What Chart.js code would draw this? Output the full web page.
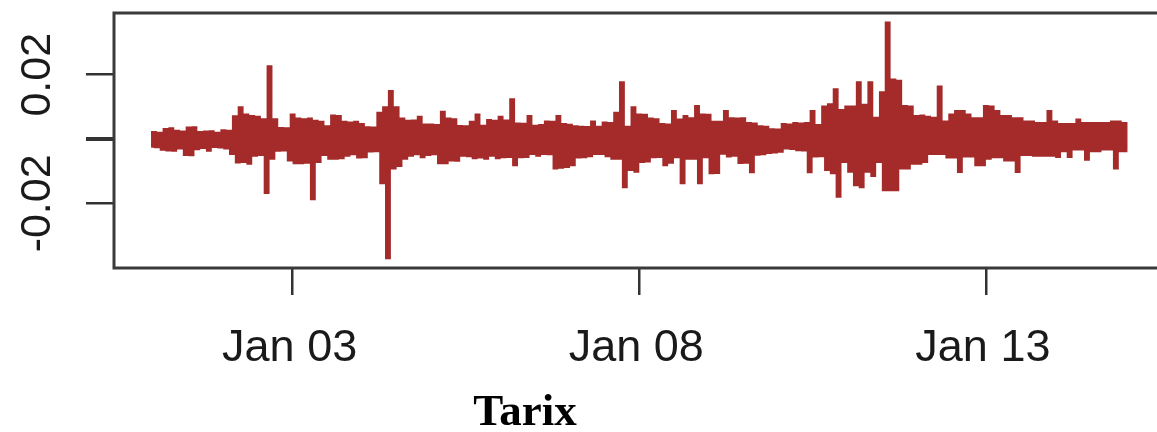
<!DOCTYPE html>
<html>
<head>
<meta charset="utf-8">
<script src="https://cdn.jsdelivr.net/npm/chart.js@4.4.1/dist/chart.umd.min.js"></script>
<style>
  html, body { margin: 0; padding: 0; background: #fff; overflow: hidden; }
  #wrap { width: 1168px; height: 432px; }
</style>
</head>
<body>
<div id="wrap"><canvas id="retChart" width="1168" height="432"></canvas></div>
<script>
// hourly returns, starting one hour before Jan 01 00:00
const startHour = -1;
const returns = [
  -0.0022, 0.0020, -0.0024, 0.0018, -0.0032, 0.0030, -0.0034, 0.0032, -0.0035, 0.0024,
  -0.0028, 0.0022, -0.0048, 0.0034, -0.0049, 0.0035, -0.0030, 0.0020, -0.0026, 0.0022,
  -0.0035, 0.0023, -0.0023, 0.0018, -0.0025, 0.0026, -0.0028, 0.0024, -0.0045, 0.0069,
  -0.0071, 0.0097, -0.0070, 0.0075, -0.0075, 0.0070, -0.0050, 0.0068, -0.0048, 0.0060,
  -0.0166, 0.0225, -0.0060, 0.0060, -0.0035, 0.0033, -0.0034, 0.0032, -0.0065, 0.0075,
  -0.0074, 0.0062, -0.0074, 0.0060, -0.0072, 0.0062, -0.0186, 0.0055, -0.0070, 0.0052,
  -0.0048, 0.0038, -0.0060, 0.0072, -0.0060, 0.0070, -0.0058, 0.0052, -0.0050, 0.0050,
  -0.0046, 0.0052, -0.0056, 0.0045, -0.0055, 0.0035, -0.0037, 0.0034, -0.0036, 0.0080,
  -0.0136, 0.0097, -0.0369, 0.0148, -0.0090, 0.0097, -0.0082, 0.0062, -0.0060, 0.0055,
  -0.0050, 0.0056, -0.0046, 0.0068, -0.0055, 0.0044, -0.0048, 0.0044, -0.0046, 0.0042,
  -0.0074, 0.0083, -0.0074, 0.0062, -0.0065, 0.0060, -0.0066, 0.0039, -0.0050, 0.0038,
  -0.0052, 0.0052, -0.0058, 0.0075, -0.0056, 0.0040, -0.0060, 0.0058, -0.0050, 0.0055,
  -0.0058, 0.0068, -0.0055, 0.0056, -0.0054, 0.0122, -0.0080, 0.0047, -0.0055, 0.0046,
  -0.0054, 0.0070, -0.0045, 0.0040, -0.0050, 0.0042, -0.0045, 0.0053, -0.0046, 0.0052,
  -0.0090, 0.0070, -0.0088, 0.0045, -0.0085, 0.0043, -0.0080, 0.0038, -0.0056, 0.0037,
  -0.0055, 0.0036, -0.0052, 0.0053, -0.0045, 0.0037, -0.0045, 0.0050, -0.0052, 0.0048,
  -0.0060, 0.0080, -0.0060, 0.0175, -0.0148, 0.0037, -0.0095, 0.0097, -0.0100, 0.0075,
  -0.0070, 0.0074, -0.0068, 0.0062, -0.0055, 0.0060, -0.0054, 0.0045, -0.0080, 0.0044,
  -0.0072, 0.0086, -0.0055, 0.0059, -0.0136, 0.0070, -0.0060, 0.0063, -0.0060, 0.0101,
  -0.0136, 0.0075, -0.0055, 0.0074, -0.0105, 0.0052, -0.0104, 0.0052, -0.0044, 0.0086,
  -0.0053, 0.0063, -0.0050, 0.0062, -0.0073, 0.0063, -0.0072, 0.0048, -0.0102, 0.0047,
  -0.0047, 0.0038, -0.0046, 0.0037, -0.0042, 0.0029, -0.0040, 0.0028, -0.0038, 0.0045,
  -0.0028, 0.0044, -0.0029, 0.0048, -0.0033, 0.0047, -0.0034, 0.0048, -0.0102, 0.0086,
  -0.0053, 0.0042, -0.0052, 0.0100, -0.0095, 0.0107, -0.0105, 0.0153, -0.0178, 0.0089,
  -0.0070, 0.0100, -0.0100, 0.0100, -0.0142, 0.0175, -0.0148, 0.0105, -0.0100, 0.0175,
  -0.0113, 0.0065, -0.0070, 0.0144, -0.0158, 0.0361, -0.0158, 0.0184, -0.0158, 0.0180,
  -0.0090, 0.0101, -0.0090, 0.0100, -0.0075, 0.0070, -0.0075, 0.0072, -0.0070, 0.0068,
  -0.0045, 0.0065, -0.0045, 0.0162, -0.0045, 0.0053, -0.0056, 0.0075, -0.0056, 0.0086,
  -0.0101, 0.0086, -0.0053, 0.0075, -0.0053, 0.0063, -0.0080, 0.0063, -0.0080, 0.0101,
  -0.0060, 0.0100, -0.0055, 0.0086, -0.0055, 0.0070, -0.0065, 0.0070, -0.0065, 0.0063,
  -0.0101, 0.0063, -0.0048, 0.0053, -0.0048, 0.0053, -0.0050, 0.0048, -0.0050, 0.0048,
  -0.0050, 0.0086, -0.0050, 0.0053, -0.0054, 0.0045, -0.0036, 0.0045, -0.0054, 0.0045,
  -0.0031, 0.0059, -0.0031, 0.0048, -0.0063, 0.0048, -0.0036, 0.0048, -0.0036, 0.0048,
  -0.0031, 0.0048, -0.0031, 0.0053, -0.0090, 0.0053, -0.0036, 0.0048, -0.0036
];
const hours = returns.map((_, i) => startHour + i);

const xTickHours = [48, 168, 288];
const xTickLabels = ["Jan 03", "Jan 08", "Jan 13"];
const yTickValues = [-0.02, 0, 0.02];
const yTickLabels = ["-0.02", "", "0.02"];
const xTitle = "Tarix";

const boxAndText = {
  id: "boxAndText",
  afterDraw(chart) {
    const { ctx, chartArea: a, scales } = chart;
    ctx.save();
    ctx.strokeStyle = "#3a3a3a";
    ctx.lineWidth = 3;
    ctx.strokeRect(a.left, a.top, a.right - a.left, a.bottom - a.top);

    // rotated y labels, like R's default axis style
    ctx.fillStyle = "#1a1a1a";
    ctx.font = "43px 'Liberation Sans', Arial, sans-serif";
    ctx.textAlign = "center";
    ctx.textBaseline = "alphabetic";
    yTickValues.forEach((v, i) => {
      if (!yTickLabels[i]) return;
      ctx.save();
      ctx.translate(50, scales.y.getPixelForValue(v));
      ctx.rotate(-Math.PI / 2);
      ctx.fillText(yTickLabels[i], 0, 0);
      ctx.restore();
    });

    ctx.font = "bold 45px 'Liberation Serif', 'Times New Roman', serif";
    ctx.fillStyle = "#000";
    ctx.fillText(xTitle, 525, 425);
    ctx.restore();
  }
};

const ctx = document.getElementById("retChart");

new Chart(ctx, {
  type: "line",
  data: {
    datasets: [
      {
        data: returns.map((v, i) => ({ x: hours[i], y: v })),
        borderColor: "#a52a2a",
        borderWidth: 3,
        pointRadius: 0,
        stepped: "middle",
        fill: false,
      },
    ],
  },
  options: {
    responsive: false,
    animation: false,
    layout: { padding: { top: 13, left: 0, right: 0, bottom: 0 } },
    plugins: {
      legend: { display: false },
      tooltip: { enabled: false },
    },
    scales: {
      x: {
        type: "linear",
        min: -13.84,
        max: 351.05,
        afterBuildTicks: (s) => { s.ticks = xTickHours.map((v) => ({ value: v })); },
        afterFit: (s) => { s.height = 164; },
        ticks: {
          autoSkip: false,
          maxRotation: 0,
          padding: 27,
          labelOffset: -3,
          color: "#1a1a1a",
          font: { family: "'Liberation Sans', Arial, sans-serif", size: 45 },
          callback: (v, i) => xTickLabels[i],
        },
        grid: { drawOnChartArea: false, tickLength: 27, color: "#333", lineWidth: 2.5 },
        border: { display: false },
      },
      y: {
        min: -0.0401,
        max: 0.0392,
        afterBuildTicks: (s) => { s.ticks = yTickValues.map((v) => ({ value: v })); },
        afterFit: (s) => { s.width = 114; },
        ticks: { display: false },
        grid: {
          drawOnChartArea: false,
          tickLength: 28,
          color: "#333",
          lineWidth: (c) => (c.tick && c.tick.value === 0 ? 4 : 2.5),
        },
        border: { display: false },
      },
    },
  },
  plugins: [boxAndText],
});
</script>
</body>
</html>
